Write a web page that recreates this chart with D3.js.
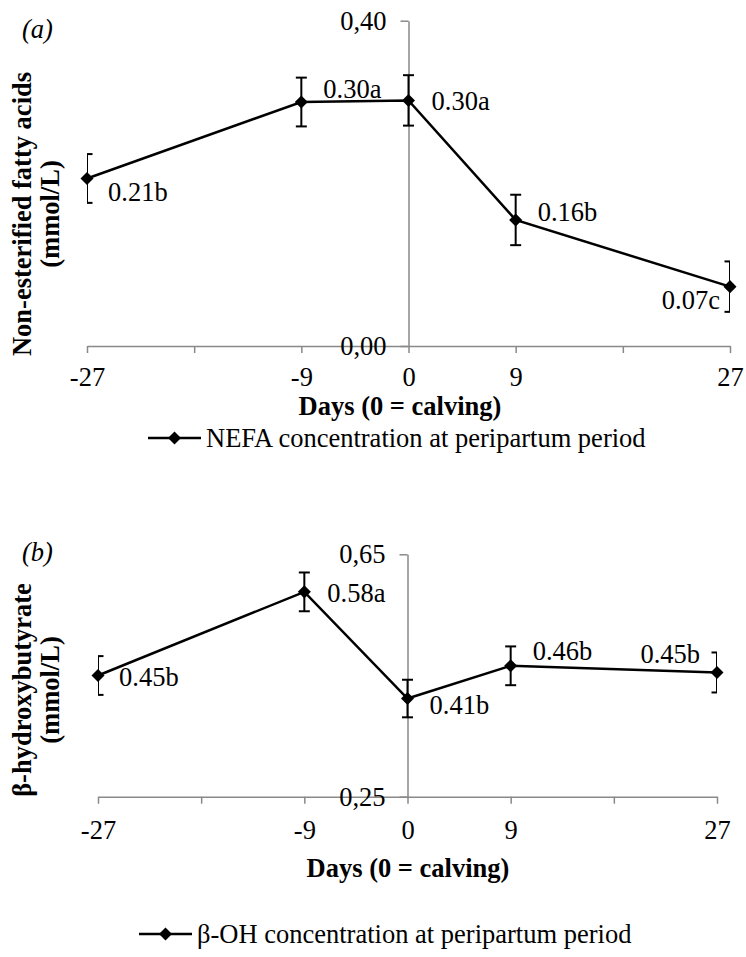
<!DOCTYPE html>
<html>
<head>
<meta charset="utf-8">
<script src="https://cdn.jsdelivr.net/npm/d3@7"></script>
<style>
  body { margin: 0; background: #fff; }
  svg text { font-family: "Liberation Serif", "Times New Roman", serif; fill: #000; }
</style>
</head>
<body>
<div class="chart"></div>
<script>
// values
const days = [-27, -9, 0, 9, 27];
const dayTicks = [-27, -18, -9, 0, 9, 18, 27];

const nefaValues = [0.206, 0.300, 0.302, 0.155, 0.073];
const nefaErrors = [0.030, 0.030, 0.031, 0.031, 0.031];
const nefaLabels = ["0.21b", "0.30a", "0.30a", "0.16b", "0.07c"];
const nefaTicks = [0.00, 0.40];

const bhbValues = [0.450, 0.588, 0.412, 0.466, 0.455];
const bhbErrors = [0.032, 0.032, 0.031, 0.032, 0.033];
const bhbLabels = ["0.45b", "0.58a", "0.41b", "0.46b", "0.45b"];
const bhbTicks = [0.25, 0.65];

const width = 746, height = 957;
const fontSize = 26.5;
const axisColor = "#898989";

const svg = d3.select(".chart")
  .append("svg")
  .attr("width", width)
  .attr("height", height);

drawPanel({
  id: "a",
  tag: "(a)", tagY: 38,
  values: nefaValues, errors: nefaErrors, labels: nefaLabels, ticks: nefaTicks,
  xRange: [87, 730], yRange: [346, 20.7], xTickPad: 14,
  titleLines: ["Non-esterified fatty acids", "(mmol/L)"], titleCenter: 214,
  xTitleX: 400, xTitleY: 415,
  legendText: "NEFA concentration at peripartum period", legendX: 148, legendY: 447,
  // label placement: [dx, dy to baseline, anchor]
  labelPos: [[21, 23, "start"], [22, -4, "start"], [23, 10, "start"], [22, 1, "start"], [-10, 22, "end"]]
});

drawPanel({
  id: "b",
  tag: "(b)", tagY: 561,
  values: bhbValues, errors: bhbErrors, labels: bhbLabels, ticks: bhbTicks,
  xRange: [98, 717], yRange: [796.7, 554.3], xTickPad: 16,
  titleLines: ["β-hydroxybutyrate", "(mmol/L)"], titleCenter: 690,
  xTitleX: 408, xTitleY: 877,
  legendText: "β-OH concentration at peripartum period", legendX: 139, legendY: 943,
  labelPos: [[21, 10, "start"], [23, 10, "start"], [22, 15, "start"], [22, -6, "start"], [-17, -9, "end"]]
});

function drawPanel(p) {
  const x = d3.scaleLinear().domain([-27, 27]).range(p.xRange);
  const y = d3.scaleLinear().domain(d3.extent(p.ticks)).range(p.yRange);
  const g = svg.append("g").attr("class", "panel-" + p.id);

  const pts = days.map((d, i) => ({ day: d, value: p.values[i], err: p.errors[i], label: p.labels[i], pos: p.labelPos[i] }));

  // x axis
  const xAxis = g.append("g")
    .attr("transform", `translate(0,${y(p.ticks[0])})`)
    .call(d3.axisBottom(x)
      .tickValues(dayTicks)
      .tickSize(7)
      .tickSizeOuter(0)
      .tickPadding(p.xTickPad)
      .tickFormat(d => days.includes(d) ? d : ""));

  // y axis crosses at day 0
  const yAxis = g.append("g")
    .attr("transform", `translate(${x(0)},0)`)
    .call(d3.axisLeft(y)
      .tickValues(p.ticks)
      .tickSize(8)
      .tickSizeOuter(0)
      .tickPadding(14)
      .tickFormat(d => d3.format(".2f")(d).replace(".", ",")));

  [xAxis, yAxis].forEach(ax => {
    ax.selectAll("path, line").attr("stroke", axisColor).attr("stroke-width", 1.5);
    ax.selectAll("text").attr("font-size", fontSize);
  });

  // error bars get clipped to the plot area like in the original
  const clipId = "clip-" + p.id;
  g.append("clipPath").attr("id", clipId)
    .append("rect")
    .attr("x", p.xRange[0]).attr("y", 0)
    .attr("width", p.xRange[1] - p.xRange[0]).attr("height", height);

  const cap = 5.5;
  const bars = g.append("g").attr("clip-path", `url(#${clipId})`)
    .attr("stroke", "#000").attr("stroke-width", 2)
    .selectAll("g").data(pts).join("g");
  bars.append("line")
    .attr("x1", d => x(d.day)).attr("x2", d => x(d.day))
    .attr("y1", d => y(d.value - d.err)).attr("y2", d => y(d.value + d.err));
  bars.append("line")
    .attr("x1", d => x(d.day) - cap).attr("x2", d => x(d.day) + cap)
    .attr("y1", d => y(d.value + d.err)).attr("y2", d => y(d.value + d.err));
  bars.append("line")
    .attr("x1", d => x(d.day) - cap).attr("x2", d => x(d.day) + cap)
    .attr("y1", d => y(d.value - d.err)).attr("y2", d => y(d.value - d.err));

  const line = d3.line().x(d => x(d.day)).y(d => y(d.value));
  g.append("path")
    .datum(pts)
    .attr("d", line)
    .attr("fill", "none")
    .attr("stroke", "#000")
    .attr("stroke-width", 2.5);

  const diamond = d3.symbol().type(d3.symbolSquare).size(85);
  g.selectAll(".marker").data(pts).join("path")
    .attr("class", "marker")
    .attr("d", diamond)
    .attr("transform", d => `translate(${x(d.day)},${y(d.value)}) rotate(45)`)
    .attr("fill", "#000");

  g.selectAll(".data-label").data(pts).join("text")
    .attr("class", "data-label")
    .attr("x", d => x(d.day) + d.pos[0])
    .attr("y", d => y(d.value) + d.pos[1])
    .attr("text-anchor", d => d.pos[2])
    .attr("font-size", fontSize)
    .text(d => d.label);

  // panel tag
  g.append("text")
    .attr("x", 22).attr("y", p.tagY)
    .attr("font-size", fontSize)
    .attr("font-style", "italic")
    .text(p.tag);

  // axis titles
  const yTitle = g.append("text")
    .attr("transform", `translate(31,${p.titleCenter}) rotate(-90)`)
    .attr("text-anchor", "middle")
    .attr("font-size", fontSize)
    .attr("font-weight", "bold");
  yTitle.selectAll("tspan").data(p.titleLines).join("tspan")
    .attr("x", 0)
    .attr("dy", (d, i) => i === 0 ? 0 : 28)
    .text(d => d);

  g.append("text")
    .attr("x", p.xTitleX).attr("y", p.xTitleY)
    .attr("text-anchor", "middle")
    .attr("font-size", fontSize)
    .attr("font-weight", "bold")
    .text("Days (0 = calving)");

  // legend
  const lg = g.append("g").attr("transform", `translate(${p.legendX},${p.legendY - 9})`);
  lg.append("line").attr("x1", 0).attr("x2", 53).attr("stroke", "#000").attr("stroke-width", 2.5);
  lg.append("path").attr("d", diamond).attr("transform", "translate(26.5,0) rotate(45)").attr("fill", "#000");
  lg.append("text")
    .attr("x", 58).attr("y", 9)
    .attr("font-size", fontSize)
    .text(p.legendText);
}
</script>
</body>
</html>
